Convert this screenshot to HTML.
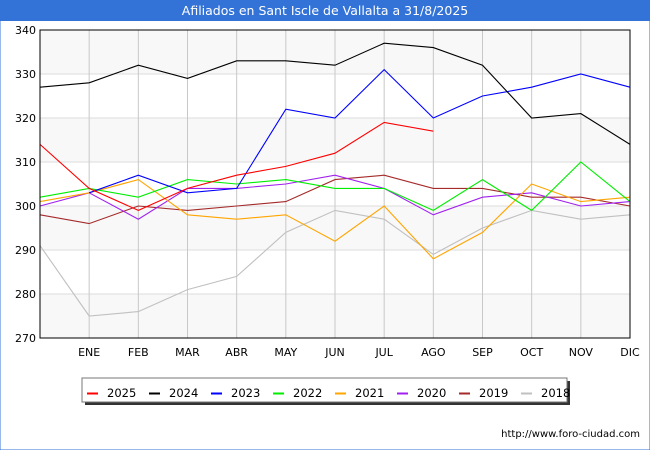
<!DOCTYPE html>
<html><head><meta charset="utf-8"><style>
body{margin:0;background:#fff;font-family:"DejaVu Sans","Liberation Sans",sans-serif}
#wrap{position:relative;width:650px;height:450px;overflow:hidden}
</style></head><body>
<div id="wrap">
<svg id="svg" width="650" height="450" xmlns="http://www.w3.org/2000/svg" font-family="DejaVu Sans, Liberation Sans, sans-serif">
<rect x="0" y="0" width="650" height="450" fill="#fff" stroke="#3373d8" stroke-width="1"/>
<rect x="0" y="0" width="650" height="21" fill="#3373d8"/>
<text x="325" y="15" text-anchor="middle" fill="#fff" font-size="12.5">Afiliados en Sant Iscle de Vallalta a 31/8/2025</text>
<g id="plot"></g>
<text x="640" y="437" text-anchor="end" font-size="10" fill="#000">http://www.foro-ciudad.com</text>
</svg>
</div>
<script>
const months=["","ENE","FEB","MAR","ABR","MAY","JUN","JUL","AGO","SEP","OCT","NOV","DIC"];
const yTicks=[270,280,290,300,310,320,330,340];
const seriesNames=["2025","2024","2023","2022","2021","2020","2019","2018"];
const seriesColors=["#ff0000","#000000","#0000ff","#00ee00","#ffa500","#a020f0","#a52a2a","#c0c0c0"];
const s2025=[314,304,299,304,307,309,312,319,317];
const s2024=[327,328,332,329,333,333,332,337,336,332,320,321,314];
const s2023=[null,303,307,303,304,322,320,331,320,325,327,330,327];
const s2022=[302,304,302,306,305,306,304,304,299,306,299,310,301];
const s2021=[301,303,306,298,297,298,292,300,288,294,305,301,302];
const s2020=[300,303,297,304,304,305,307,304,298,302,303,300,301];
const s2019=[298,296,300,299,300,301,306,307,304,304,302,302,300];
const s2018=[291,275,276,281,284,294,299,297,289,295,299,297,298];
const allSeries=[s2025,s2024,s2023,s2022,s2021,s2020,s2019,s2018];
const NS="http://www.w3.org/2000/svg";
const L=40,R=630,T=30,B=338,yMin=270,yMax=340;
const x=i=>L+i*(R-L)/(months.length-1);
const y=v=>B-(v-yMin)*(B-T)/(yMax-yMin);
const g=document.getElementById('plot');
function mk(t,a){const e=document.createElementNS(NS,t);for(const k in a)e.setAttribute(k,a[k]);g.appendChild(e);return e;}
for(let i=0;i<yTicks.length-1;i++){
  const r=mk('rect',{x:L,y:y(yTicks[i+1]),width:R-L,height:y(yTicks[i])-y(yTicks[i+1]),fill:(i%2==0)?'#f8f8f8':'#ffffff'});
  
  
}
yTicks.forEach(v=>{
  const l=mk('line',{x1:L,x2:R,y1:y(v),y2:y(v),stroke:'#dddddd','stroke-width':1});
  
  
  const t=mk('text',{x:L-4,y:y(v)+4,'text-anchor':'end','font-size':11,fill:'#000'});
  t.textContent=v;
  
  
});
months.forEach((m,i)=>{
  if(i>0){const l=mk('line',{x1:x(i),x2:x(i),y1:T,y2:B,stroke:'#c8c8c8','stroke-width':1});
  
  }
  const t=mk('text',{x:x(i),y:B+18,'text-anchor':'middle','font-size':11,fill:'#000'});
  t.textContent=m;
  
  
});
for(let k=allSeries.length-1;k>=0;k--){
  const d=allSeries[k];let p="";
  d.forEach((v,i)=>{if(v==null)return;p+=(p?"L":"M")+x(i)+","+y(v);});
  const pl=mk('path',{d:p,fill:'none',stroke:seriesColors[k],'stroke-width':1.1});
  
  
}
const ax=mk('rect',{x:L,y:T,width:R-L,height:B-T,fill:'none',stroke:'#000','stroke-width':1});


const sh=mk('rect',{x:85,y:381,width:485,height:24,fill:'#333'});


const lb=mk('rect',{x:82,y:378,width:485,height:24,fill:'#fff',stroke:'#777','stroke-width':1});


seriesNames.forEach((n,i)=>{
  const bx=87+i*62;
  const sw=mk('line',{x1:bx,x2:bx+11,y1:393.5,y2:393.5,stroke:seriesColors[i],'stroke-width':2});
  
  
  const t=mk('text',{x:bx+20,y:397,'font-size':11.5,fill:'#000'});
  t.textContent=n;
  
  
});
</script>
</body></html>
